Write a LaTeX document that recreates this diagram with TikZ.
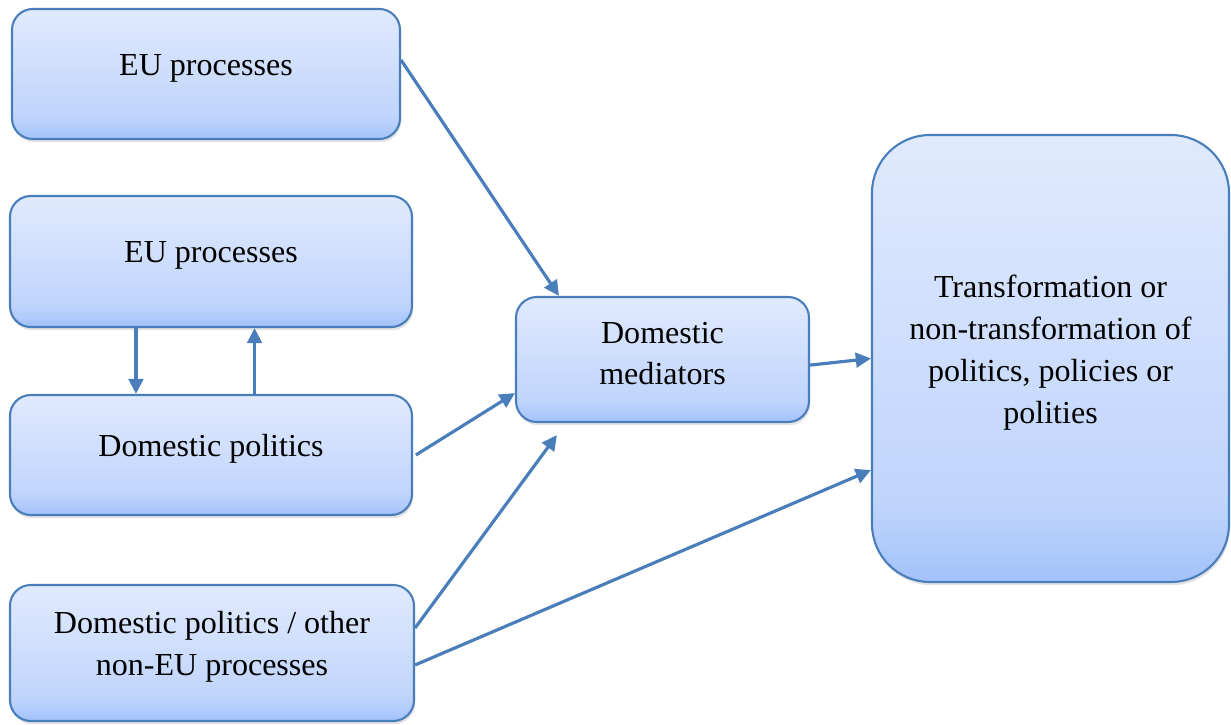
\documentclass[tikz,border=0pt]{standalone}
\usepackage{fontspec}
\setmainfont{Liberation Serif}
\usetikzlibrary{arrows.meta,shadows}
\definecolor{boxline}{RGB}{74,126,187}
\definecolor{boxtop}{RGB}{224,234,253}
\definecolor{boxmid}{RGB}{192,213,252}
\definecolor{boxbot}{RGB}{163,194,250}
\pgfdeclareverticalshading{boxshade}{100bp}{color(0bp)=(boxbot); color(25bp)=(boxbot); color(34bp)=(boxmid); color(75bp)=(boxtop); color(100bp)=(boxtop)}
\tikzset{
  pbox/.style={draw=boxline, line width=1.5pt, rounded corners=0.52cm, shade, shading=boxshade,
    drop shadow={shadow xshift=0.03cm, shadow yshift=-0.08cm, opacity=0.22}},
  ptext/.style={align=center, font=\fontsize{22.8}{29.7}\selectfont, yshift=0.15cm},
  arr/.style={draw=boxline, line width=2.25pt, -{Triangle[length=10.8pt,width=10.5pt]}}
}
\begin{document}
\begin{tikzpicture}
    \useasboundingbox (0,0) rectangle (30.775,-18.1);
    %left column
    \node[pbox, minimum width=9.7cm, minimum height=3.25cm,
        label={[ptext]center:EU processes}] (eu1) at (5.15,-1.85) {};
    \node[pbox, minimum width=10.05cm, minimum height=3.275cm,
        label={[ptext]center:EU processes}] (eu2) at (5.275,-6.5375) {};
    \node[pbox, minimum width=10.05cm, minimum height=3cm,
        label={[ptext]center:Domestic politics}] (dom) at (5.275,-11.375) {};
    \node[pbox, minimum width=10.1cm, minimum height=3.4cm,
        label={[ptext]center:Domestic politics / other\\non-EU processes}] (oth) at (5.3,-16.325) {};
    %mediators
    \node[pbox, minimum width=7.325cm, minimum height=3.125cm,
        label={[ptext]center:Domestic\\mediators}] (med) at (16.5625,-8.9875) {};
    %outcome
    \node[pbox, rounded corners=1.45cm, minimum width=8.925cm, minimum height=11.175cm,
        label={[ptext]center:Transformation or\\non-transformation of\\politics, policies or\\polities}] (trf) at (26.2625,-8.9625) {};

    %arrows
    \draw[arr] ([yshift=0.35cm]eu1.east) -- ([xshift=1.1cm]med.north west);
    \draw[arr] ([xshift=3.175cm]eu2.south west) -- ([xshift=3.175cm]dom.north west);
    \draw[arr] ([xshift=6.14cm]dom.north west) -- ([xshift=6.14cm]eu2.south west);
    \draw[arr] ([xshift=0.07cm]dom.east) -- ([yshift=-0.84cm]med.west);
    \draw[arr] ([yshift=0.625cm]oth.east) -- ([xshift=1.05cm,yshift=-0.3cm]med.south west);
    \draw[arr] ([yshift=-0.14cm]med.east) -- (trf.west);
    \draw[arr] ([yshift=-0.3cm]oth.east) -- ([yshift=-2.79cm]trf.west);
\end{tikzpicture}
\end{document}
